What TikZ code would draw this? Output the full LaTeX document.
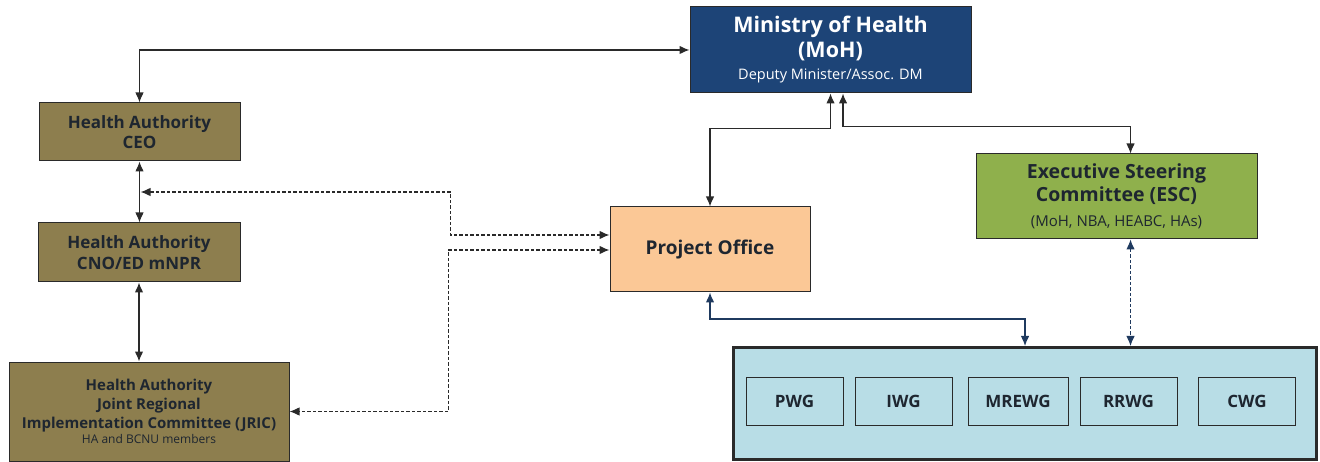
\documentclass[tikz,border=0pt]{standalone}
\usepackage{fontspec}
\setmainfont{Open Sans}
\usetikzlibrary{arrows.meta,calc}
\definecolor{mohblue}{HTML}{1D4477}
\definecolor{olive}{HTML}{8D7E4E}
\definecolor{escgreen}{HTML}{8FB04C}
\definecolor{peach}{HTML}{FBC896}
\definecolor{wgblue}{HTML}{B8DDE6}
\definecolor{boxline}{HTML}{2A2A2A}
\definecolor{txtdark}{HTML}{1E2630}
\definecolor{linecol}{HTML}{2A2A2A}
\definecolor{navyline}{HTML}{1F3A5F}
\begin{document}
\begin{tikzpicture}[x=1pt,y=-1pt,
  box/.style={draw=boxline,line width=1pt,align=center,inner sep=0pt,text=txtdark},
  habox/.style={box,fill=olive},
  wgbox/.style={box,fill=wgblue,minimum width=97pt,minimum height=48pt,font=\fontsize{17}{20}\selectfont\bfseries},
  biarrow/.style={{Latex[length=10pt,width=8.5pt]}-{Latex[length=10pt,width=8.5pt]},line width=1.1pt,draw=linecol},
  dashline/.style={dash pattern=on 3.5pt off 2pt}]
\useasboundingbox (0,0) rectangle (1320,462);

% boxes
\node[box,fill=mohblue,text=white,minimum width=281pt,minimum height=86pt,
  font=\fontsize{21.5}{25}\selectfont\bfseries] (moh) at (830.5,50)
  {Ministry of Health\\(MoH)\\[-3pt]{\normalfont\fontsize{14.5}{17}\selectfont Deputy Minister/Assoc. DM}};
\node[habox,minimum width=201pt,minimum height=58pt,font=\fontsize{17}{20}\selectfont\bfseries] (ceo) at (139.5,132)
  {Health Authority\\CEO};
\node[habox,minimum width=202pt,minimum height=59pt,font=\fontsize{17}{21}\selectfont\bfseries] (cno) at (139,252.5)
  {Health Authority\\CNO/ED mNPR};
\node[habox,minimum width=280pt,minimum height=99pt,font=\fontsize{15}{19}\selectfont\bfseries] (jric) at (149,411.5)
  {Health Authority\\Joint Regional\\Implementation Committee (JRIC)\\[-4pt]{\normalfont\fontsize{12}{15}\selectfont HA and BCNU members}};
\node[box,fill=peach,minimum width=200pt,minimum height=85pt,font=\fontsize{19}{23}\selectfont\bfseries] (po) at (710,249.5)
  {Project Office};
\node[box,fill=escgreen,minimum width=281pt,minimum height=85pt,font=\fontsize{19.5}{23}\selectfont\bfseries] (esc) at (1116.5,196.5)
  {Executive Steering\\Committee (ESC)\\[2pt]{\normalfont\fontsize{15}{18}\selectfont (MoH, NBA, HEABC, HAs)}};
\node[draw=boxline,line width=3pt,fill=wgblue,minimum width=583pt,minimum height=112pt,inner sep=0pt] (wg) at (1025,403.5) {};
\node[wgbox] (pwg) at (794.5,401) {PWG};
\node[wgbox] (iwg) at (903.5,401) {IWG};
\node[wgbox,minimum width=100pt] (mrewg) at (1018,401) {MREWG};
\node[wgbox] (rrwg) at (1128.5,401) {RRWG};
\node[wgbox] (cwg) at (1247,401) {CWG};

% connectors
\draw[biarrow] (ceo.north) |- (moh.west);
\draw[biarrow] (ceo.south) -- (ceo.south |- cno.north);
\draw[biarrow] (cno.south) -- (cno.south |- jric.north);
\draw[biarrow] (po.north) |- ($(moh.south)+(0,35)$) -- (moh.south);
\draw[biarrow] ($(moh.south)+(12.5,0)$) |- ($(esc.north)+(14,-27)$) -- ($(esc.north)+(14,0)$);
\coordinate (tap) at (140.5,192);
\draw[biarrow,dashline] ($(po.west)+(0,-14.5)$) -- ++(-159,0) |- (tap);
\draw[biarrow,dashline] ($(po.west)+(0,0.5)$) -- ++(-161,0) |- (jric.east);
\draw[biarrow,draw=navyline] (po.south) |- ($(wg.north)+(0,-27)$) -- (wg.north);
\coordinate (escb) at ($(esc.south)+(14,0)$);
\draw[biarrow,draw=navyline,dashline] (escb) -- (escb |- wg.north);
\end{tikzpicture}
\end{document}
